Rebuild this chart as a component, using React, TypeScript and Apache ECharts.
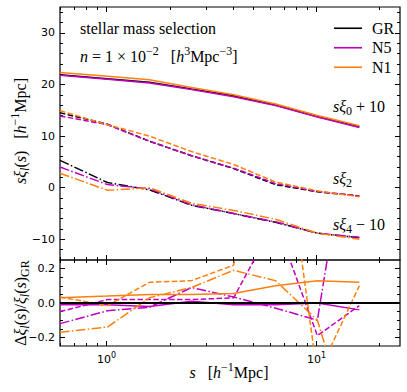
import React, { useEffect, useRef } from "react";
import * as echarts from "echarts";

// separation bins s [h^-1 Mpc]
const S_BINS = [0.6, 1.01, 1.6, 2.54, 4.03, 6.38, 10.1, 16.0];
const MODELS = ["GR", "N5", "N1"];
const COLORS: Record<string, string> = { GR: "#000000", N5: "#bf00bf", N1: "#ff7f0e" };

// s*xi_0(s)
const XI0_GR = [11.9, 11.1, 10.45, 9.1, 7.8, 6.0, 3.8, 1.8];
const XI0_N5 = [11.8, 11.0, 10.3, 9.0, 7.6, 5.9, 3.7, 1.65];
const XI0_N1 = [12.3, 11.6, 10.9, 9.4, 8.0, 6.2, 4.0, 2.0];
// s*xi_2(s)
const XI2_GR = [14.5, 12.3, 9.0, 6.2, 3.7, 0.6, -0.8, -1.6];
const XI2_N5 = [13.9, 12.2, 9.0, 6.2, 3.8, 0.8, -0.75, -1.6];
const XI2_N1 = [14.9, 12.2, 10.0, 7.0, 4.5, 1.1, -0.6, -1.75];
// s*xi_4(s)
const XI4_GR = [15.3, 11.0, 9.6, 6.6, 5.0, 3.3, 1.2, 0.3];
const XI4_N5 = [14.0, 10.6, 9.8, 6.7, 5.0, 3.4, 1.2, 0.4];
const XI4_N1 = [12.8, 9.5, 10.0, 7.0, 5.6, 3.9, 1.2, 0.0];
const OFFSETS = [10, 0, -10];

// relative differences to GR
const R0_N5 = [-0.01, -0.01, -0.02, 0.01, -0.01, -0.01, 0.0, -0.04];
const R0_N1 = [0.03, 0.04, 0.05, 0.05, 0.055, 0.1, 0.13, 0.12];
const R2_N5 = [-0.05, 0.02, 0.02, 0.02, 0.03, 0.48, -0.19, -0.015];
const R2_N1 = [0.035, -0.015, 0.12, 0.13, 0.22, 1.37, -0.42, 0.1];
const R4_N5 = [-0.12, -0.045, -0.025, 0.09, 0.035, -0.03, -0.1, 1.4];
const R4_N1 = [-0.17, -0.14, 0.03, 0.09, 0.19, 0.13, -0.1, -0.9];

// ticks
const X_MIN = 0.6;
const X_MAX = 25;
const X_MAJOR = [1, 10];
const X_MINOR = [0.6, 0.7, 0.8, 0.9, 2, 3, 4, 5, 6, 7, 8, 9, 20];
const Y_TOP_MIN = -14;
const Y_TOP_MAX = 35;
const Y_TOP_MAJOR = [-10, 0, 10, 20, 30];
const Y_TOP_MINOR = [-12, -8, -6, -4, -2, 2, 4, 6, 8, 12, 14, 16, 18, 22, 24, 26, 28, 32, 34];
const Y_BOT_MIN = -0.25;
const Y_BOT_MAX = 0.25;
const Y_BOT_MAJOR = [-0.2, 0, 0.2];
const Y_BOT_MINOR = [-0.15, -0.1, -0.05, 0.05, 0.1, 0.15];

const SERIF = '"Liberation Serif", "DejaVu Serif", serif';
const SANS = '"DejaVu Sans", sans-serif';
const DASHES: any[] = ["solid", [5.5, 2.4], [9.6, 2.4, 1.5, 2.4]];

const LMIN = Math.log10(X_MIN);
const LMAX = Math.log10(X_MAX);

function dataX(grid: number) {
  return {
    type: "log",
    logBase: 10,
    gridIndex: grid,
    min: X_MIN,
    max: X_MAX,
    show: false,
    axisLine: { show: false, onZero: false },
    splitLine: { show: false },
  };
}

function tickX(grid: number, pos: string, vals: number[], len: number, labels = false) {
  const lv = vals.map((v) => Math.log10(v));
  return {
    type: "value",
    gridIndex: grid,
    position: pos,
    min: LMIN,
    max: LMAX,
    axisLine: { show: false, onZero: false },
    splitLine: { show: false },
    axisTick: { show: true, inside: true, length: len, lineStyle: { color: "#000", width: 1 }, customValues: lv },
    axisLabel: labels
      ? {
          show: true,
          customValues: lv,
          margin: 5,
          formatter: (v: number) => "{b|10}{sup|" + Math.round(v) + "}",
          rich: {
            b: { fontFamily: SANS, fontSize: 11, color: "#000", lineHeight: 16 },
            sup: { fontFamily: SANS, fontSize: 8, color: "#000", verticalAlign: "top" },
          },
        }
      : { show: false },
  };
}

function tickY(grid: number, pos: string, min: number, max: number, vals: number[], len: number, fmt?: (v: number) => string) {
  return {
    type: "value",
    gridIndex: grid,
    position: pos,
    min,
    max,
    axisLine: { show: false, onZero: false },
    splitLine: { show: false },
    axisTick: { show: true, inside: true, length: len, lineStyle: { color: "#000", width: 1 }, customValues: vals },
    axisLabel: fmt
      ? { show: true, customValues: vals, formatter: fmt, fontFamily: SANS, fontSize: 11, color: "#000", margin: 5 }
      : { show: false },
  };
}

const minus = (s: string) => s.replace("-", "\u2212");

function pairs(vals: number[], offset = 0) {
  return S_BINS.map((s, i) => [s, vals[i] + offset]);
}

const RICH = {
  r: { fontFamily: SERIF, fontSize: 16, fill: "#000", lineHeight: 22 },
  i: { fontFamily: SERIF, fontSize: 16, fontStyle: "italic", fill: "#000", lineHeight: 22 },
  sup: { fontFamily: SERIF, fontSize: 12, fill: "#000", verticalAlign: "top" },
  sub: { fontFamily: SERIF, fontSize: 12, fill: "#000", verticalAlign: "bottom" },
  subi: { fontFamily: SERIF, fontSize: 12, fontStyle: "italic", fill: "#000", verticalAlign: "bottom" },
};

function label(text: string, x: number, y: number, align = "left", rotation = 0) {
  return {
    type: "text",
    x,
    y,
    rotation,
    silent: true,
    style: {
      text,
      rich: RICH,
      fill: "#000",
      font: '16px "Liberation Serif"',
      align,
      verticalAlign: "middle",
      textAlign: align,
      textVerticalAlign: "middle",
    },
  };
}

function buildOption() {
  const topSets = [
    [XI0_GR, XI0_N5, XI0_N1],
    [XI2_GR, XI2_N5, XI2_N1],
    [XI4_GR, XI4_N5, XI4_N1],
  ];
  const series: any[] = [];
  topSets.forEach((set, l) => {
    set.forEach((vals, m) => {
      const model = MODELS[m];
      series.push({
        type: "line",
        name: l === 0 ? model : model + " l" + l * 2,
        xAxisIndex: 0,
        yAxisIndex: 0,
        data: pairs(vals, OFFSETS[l]),
        symbol: "none",
        showSymbol: false,
        color: COLORS[model],
        lineStyle: { color: COLORS[model], width: 1.5, type: DASHES[l] },
        z: 2 + m,
      });
    });
  });

  series.push({
    type: "line",
    name: "GR ratio",
    xAxisIndex: 5,
    yAxisIndex: 4,
    data: [],
    symbol: "none",
    markLine: {
      silent: true,
      symbol: ["none", "none"],
      label: { show: false },
      lineStyle: { color: "#000", width: 2, type: "solid" },
      data: [{ yAxis: 0 }],
    },
    z: 5,
  });
  const ratioSets = [
    [R0_N5, R0_N1],
    [R2_N5, R2_N1],
    [R4_N5, R4_N1],
  ];
  ratioSets.forEach((set, l) => {
    set.forEach((vals, k) => {
      const model = MODELS[k + 1];
      series.push({
        type: "line",
        name: model + " ratio l" + l * 2,
        xAxisIndex: 5,
        yAxisIndex: 4,
        data: pairs(vals),
        symbol: "none",
        showSymbol: false,
        clip: true,
        color: COLORS[model],
        lineStyle: { color: COLORS[model], width: 1.5, type: DASHES[l] },
        z: 3 + k,
      });
    });
  });

  return {
    animation: false,
    backgroundColor: "#fff",
    grid: [
      { left: 60, top: 7, width: 340, height: 253, show: true, borderColor: "#000", borderWidth: 1.2, backgroundColor: "transparent" },
      { left: 60, top: 260, width: 340, height: 86, show: true, borderColor: "#000", borderWidth: 1.2, backgroundColor: "transparent" },
    ],
    xAxis: [
      dataX(0),
      tickX(0, "bottom", X_MAJOR, 5),
      tickX(0, "bottom", X_MINOR, 3),
      tickX(0, "top", X_MAJOR, 5),
      tickX(0, "top", X_MINOR, 3),
      dataX(1),
      tickX(1, "bottom", X_MAJOR, 5, true),
      tickX(1, "bottom", X_MINOR, 3),
      tickX(1, "top", X_MAJOR, 5),
      tickX(1, "top", X_MINOR, 3),
    ],
    yAxis: [
      tickY(0, "left", Y_TOP_MIN, Y_TOP_MAX, Y_TOP_MAJOR, 5, (v) => minus(String(v))),
      tickY(0, "left", Y_TOP_MIN, Y_TOP_MAX, Y_TOP_MINOR, 3),
      tickY(0, "right", Y_TOP_MIN, Y_TOP_MAX, Y_TOP_MAJOR, 5),
      tickY(0, "right", Y_TOP_MIN, Y_TOP_MAX, Y_TOP_MINOR, 3),
      tickY(1, "left", Y_BOT_MIN, Y_BOT_MAX, Y_BOT_MAJOR, 5, (v) => minus(v.toFixed(1))),
      tickY(1, "left", Y_BOT_MIN, Y_BOT_MAX, Y_BOT_MINOR, 3),
      tickY(1, "right", Y_BOT_MIN, Y_BOT_MAX, Y_BOT_MAJOR, 5),
      tickY(1, "right", Y_BOT_MIN, Y_BOT_MAX, Y_BOT_MINOR, 3),
    ],
    legend: {
      data: ["GR", "N5", "N1"],
      orient: "vertical",
      left: 329,
      top: 15,
      icon: "rect",
      itemWidth: 28,
      itemHeight: 1.6,
      itemGap: 3,
      selectedMode: false,
      textStyle: { fontFamily: SERIF, fontSize: 16, color: "#000", padding: [0, 0, 0, 5], lineHeight: 16.5 },
    },
    graphic: [
      label("{r|stellar mass selection}", 80, 28),
      label("{i|n}{r| = 1 × 10}{sup|\u22122}{r|   [}{i|h}{sup|3}{r|Mpc}{sup|\u22123}{r|]}", 80, 56),
      label("{i|sξ}{sub|0}{r| + 10}", 333, 106),
      label("{i|sξ}{sub|2}", 333, 178),
      label("{i|sξ}{sub|4}{r| \u2212 10}", 333, 224),
      label("{i|sξ}{subi|l}{r|(}{i|s}{r|)   [}{i|h}{sup|\u22121}{r|Mpc]}", 20, 131, "center", Math.PI / 2),
      label("{r|Δ}{i|ξ}{subi|l}{r|(}{i|s}{r|)/}{i|ξ}{subi|l}{r|(}{i|s}{r|)}{sub|GR}", 20, 303, "center", Math.PI / 2),
      label("{i|s}{r|   [}{i|h}{sup|\u22121}{r|Mpc]}", 229, 372, "center"),
    ],
    series,
  };
}

export default function App() {
  const ref = useRef<HTMLDivElement>(null);
  useEffect(() => {
    const chart = echarts.init(ref.current!, null, { renderer: "svg" });
    chart.setOption(buildOption() as any);
    return () => chart.dispose();
  }, []);
  return <div ref={ref} style={{ position: "absolute", left: 0, top: 0, width: 407, height: 392 }} />;
}
